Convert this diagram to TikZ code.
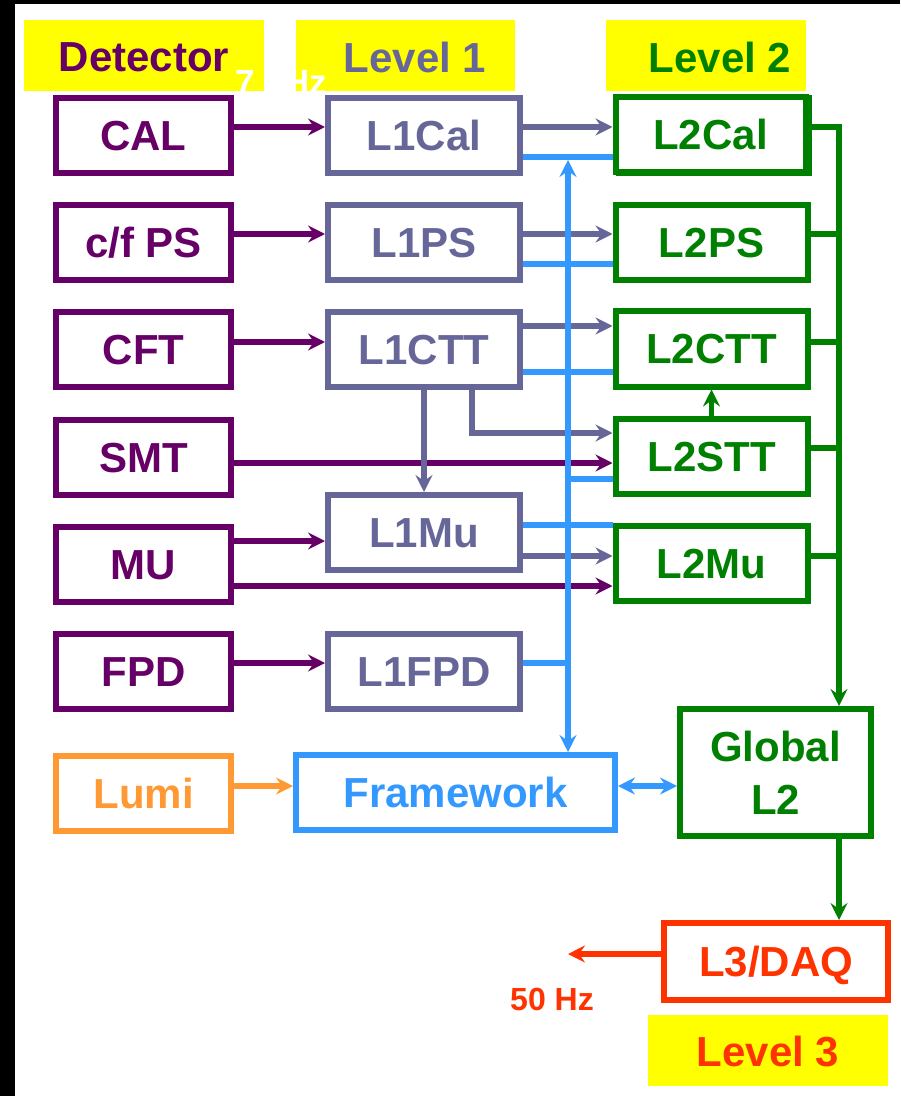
\documentclass[tikz,border=0pt]{standalone}
\usepackage{fontspec}
\setmainfont{Liberation Sans}
\usetikzlibrary{arrows.meta,shadows}

\definecolor{detpurple}{HTML}{660066}
\definecolor{lonegray}{HTML}{666699}
\definecolor{ltwogreen}{HTML}{008000}
\definecolor{fwblue}{HTML}{3399FF}
\definecolor{lumiorange}{HTML}{FF9933}
\definecolor{lthreered}{HTML}{FF3300}
\definecolor{banner}{HTML}{FFFF00}

\begin{document}
\begin{tikzpicture}[%
    x=0.5pt, y=-0.5pt,          % coordinates in pixels, y running down
    >={Stealth[length=8.5pt,width=8.5pt,inset=3pt]}, % barbed arrows
    ]
% -------------------------------------------------
% Box and wire styles
\tikzset{
  base/.style={draw, line width=3pt, inner sep=0pt, align=center,
               font=\bfseries\fontsize{21}{26.5}\selectfont},
  box/.style={base, minimum width=87.5pt, minimum height=37.5pt,
              text height=15pt, text depth=0pt},
  det/.style={box, color=detpurple},
  lone/.style={box, minimum width=96pt, color=lonegray},
  ltwo/.style={box, minimum width=96pt, color=ltwogreen},
  head/.style={font=\bfseries\fontsize{21}{25}\selectfont},
  rate/.style={font=\bfseries\fontsize{16}{19}\selectfont},
  wire/.style={line width=2.8pt},
  pw/.style={wire, detpurple},
  lw/.style={wire, lonegray},
  gw/.style={wire, ltwogreen},
  bw/.style={wire, fwblue},
}
% -------------------------------------------------
% Frame and level banners
\fill[black] (0,0) rectangle (900,1096);
\fill[white] (15,4) rectangle (900,1096);
\fill[banner] (24,20) rectangle (264,91);
\fill[banner] (296,20) rectangle (515,91);
\fill[banner] (606,20) rectangle (806,91);
\fill[banner] (648,1015) rectangle (888,1086);
\node[head, detpurple] (hdet) at (144,57) {Detector};
\node[head, lonegray] (hl1) at (415,57) {Level 1};
\node[head, ltwogreen] (hl2) at (720,57) {Level 2};
\node[head, lthreered] (hl3) at (768,1052) {Level 3};
\node[rate, white, anchor=base west, inner sep=0pt] (rin) at (235,95)
  {\fontsize{17.5}{20}\selectfont 7 kHz};
% -------------------------------------------------
% Detector column
\node[det] (cal)  at (143.5,135.5) {CAL};
\node[det] (cfps) at (143.5,242.5) {c/f PS};
\node[det] (cft)  at (143.5,349.5) {CFT};
\node[det] (smt)  at (143.5,457)   {SMT};
\node[det] (mu)   at (143.5,564)   {MU};
\node[det] (fpd)  at (143.5,671)   {FPD};
\node[box, color=lumiorange] (lumi) at (143.5,793) {Lumi};
% Level 1 column
\node[lone] (l1cal) at (424,135.5) {L1Cal};
\node[lone] (l1ps)  at (424,242.5) {L1PS};
\node[lone] (l1ctt) at (424,349.5) {L1CTT};
\node[lone] (l1mu)  at (424,532.5) {L1Mu};
\node[lone] (l1fpd) at (424,671)   {L1FPD};
\node[box, minimum width=159.5pt, color=fwblue] (fw) at (455.5,792.5) {Framework};
% Level 2 column
\node[ltwo, fill=white, minimum width=95pt,
      copy shadow={shadow xshift=1.5pt, shadow yshift=-0.3pt}]
  (l2cal) at (710.5,134.5) {L2Cal};
\node[ltwo] (l2ps)  at (711.5,242.5) {L2PS};
\node[ltwo] (l2ctt) at (711.5,349)   {L2CTT};
\node[ltwo] (l2stt) at (711.5,456)   {L2STT};
\node[ltwo] (l2mu)  at (711.5,563.5) {L2Mu};
\node[base, minimum width=95.5pt, minimum height=63.5pt, color=ltwogreen]
  (gl2) at (775.5,772.5) {Global\\L2};
% Level 3
\node[box, minimum width=112pt, minimum height=38.5pt, color=lthreered]
  (l3) at (776,961.5) {L3/DAQ};
\node[rate, lthreered] (out50) at (552,999) {50 Hz};
% -------------------------------------------------
% Detector -> Level 1 / Level 2
\draw[pw, ->] (cal.east |- 0,127)  -- (l1cal.west |- 0,127);
\draw[pw, ->] (cfps.east |- 0,234) -- (l1ps.west |- 0,234);
\draw[pw, ->] (cft.east |- 0,342)  -- (l1ctt.west |- 0,342);
\draw[pw, ->] (smt.east |- 0,463)  -- (l2stt.west |- 0,463);
\draw[pw, ->] (mu.east |- 0,541)   -- (l1mu.west |- 0,541);
\draw[pw, ->] (mu.east |- 0,586)   -- (l2mu.west |- 0,586);
\draw[pw, ->] (fpd.east |- 0,663)  -- (l1fpd.west |- 0,663);
\draw[wire, lumiorange, ->] (lumi.east |- 0,786) -- (fw.west |- 0,786);
% Level 1 -> Level 2
\draw[lw, ->] (l1cal.east |- 0,127) -- (l2cal.west |- 0,127);
\draw[lw, ->] (l1ps.east |- 0,234)  -- (l2ps.west |- 0,234);
\draw[lw, ->] (l1ctt.east |- 0,326) -- (l2ctt.west |- 0,326);
\draw[lw, ->] (l1ctt.south) -- (l1mu.north);
\draw[lw, ->] (l1ctt.south -| 472,0) |- (l2stt.west |- 0,433);
\draw[lw, ->] (l1mu.east |- 0,556)  -- (l2mu.west |- 0,556);
% Framework bus
\coordinate (fbus) at (568,160);
\draw[bw] (l1cal.east |- 0,157) -- (l2cal.west |- 0,157);
\draw[bw] (l1ps.east |- 0,264)  -- (l2ps.west |- 0,264);
\draw[bw] (l1ctt.east |- 0,372) -- (l2ctt.west |- 0,372);
\draw[bw] (fbus |- 0,479) -- (l2stt.west |- 0,479);
\draw[bw] (l1mu.east |- 0,525) -- (l2mu.west |- 0,525);
\draw[bw] (l1fpd.east |- 0,663) -- (fbus |- 0,663);
\draw[bw, <->] (fbus) -- (fbus |- fw.north);
\draw[bw, <->] (fw.east |- 0,786) -- (gl2.west |- 0,786);
% Level 2 -> Global L2 -> L3
\coordinate (gbus) at (839,127);
\draw[gw, ->] (l2stt.north) -- (l2ctt.south);
\draw[gw, ->] (l2cal.east |- gbus) -- (gbus) -- (gbus |- gl2.north);
\draw[gw] (l2ps.east |- 0,234)  -- (gbus |- 0,234);
\draw[gw] (l2ctt.east |- 0,342) -- (gbus |- 0,342);
\draw[gw] (l2stt.east |- 0,448) -- (gbus |- 0,448);
\draw[gw] (l2mu.east |- 0,556)  -- (gbus |- 0,556);
\draw[gw, ->] (gl2.south -| gbus) -- (l3.north -| gbus);
\coordinate (daq) at (568,954);
\draw[wire, lthreered, ->] (l3.west |- daq) -- (daq);
% -------------------------------------------------
\end{tikzpicture}
\end{document}
